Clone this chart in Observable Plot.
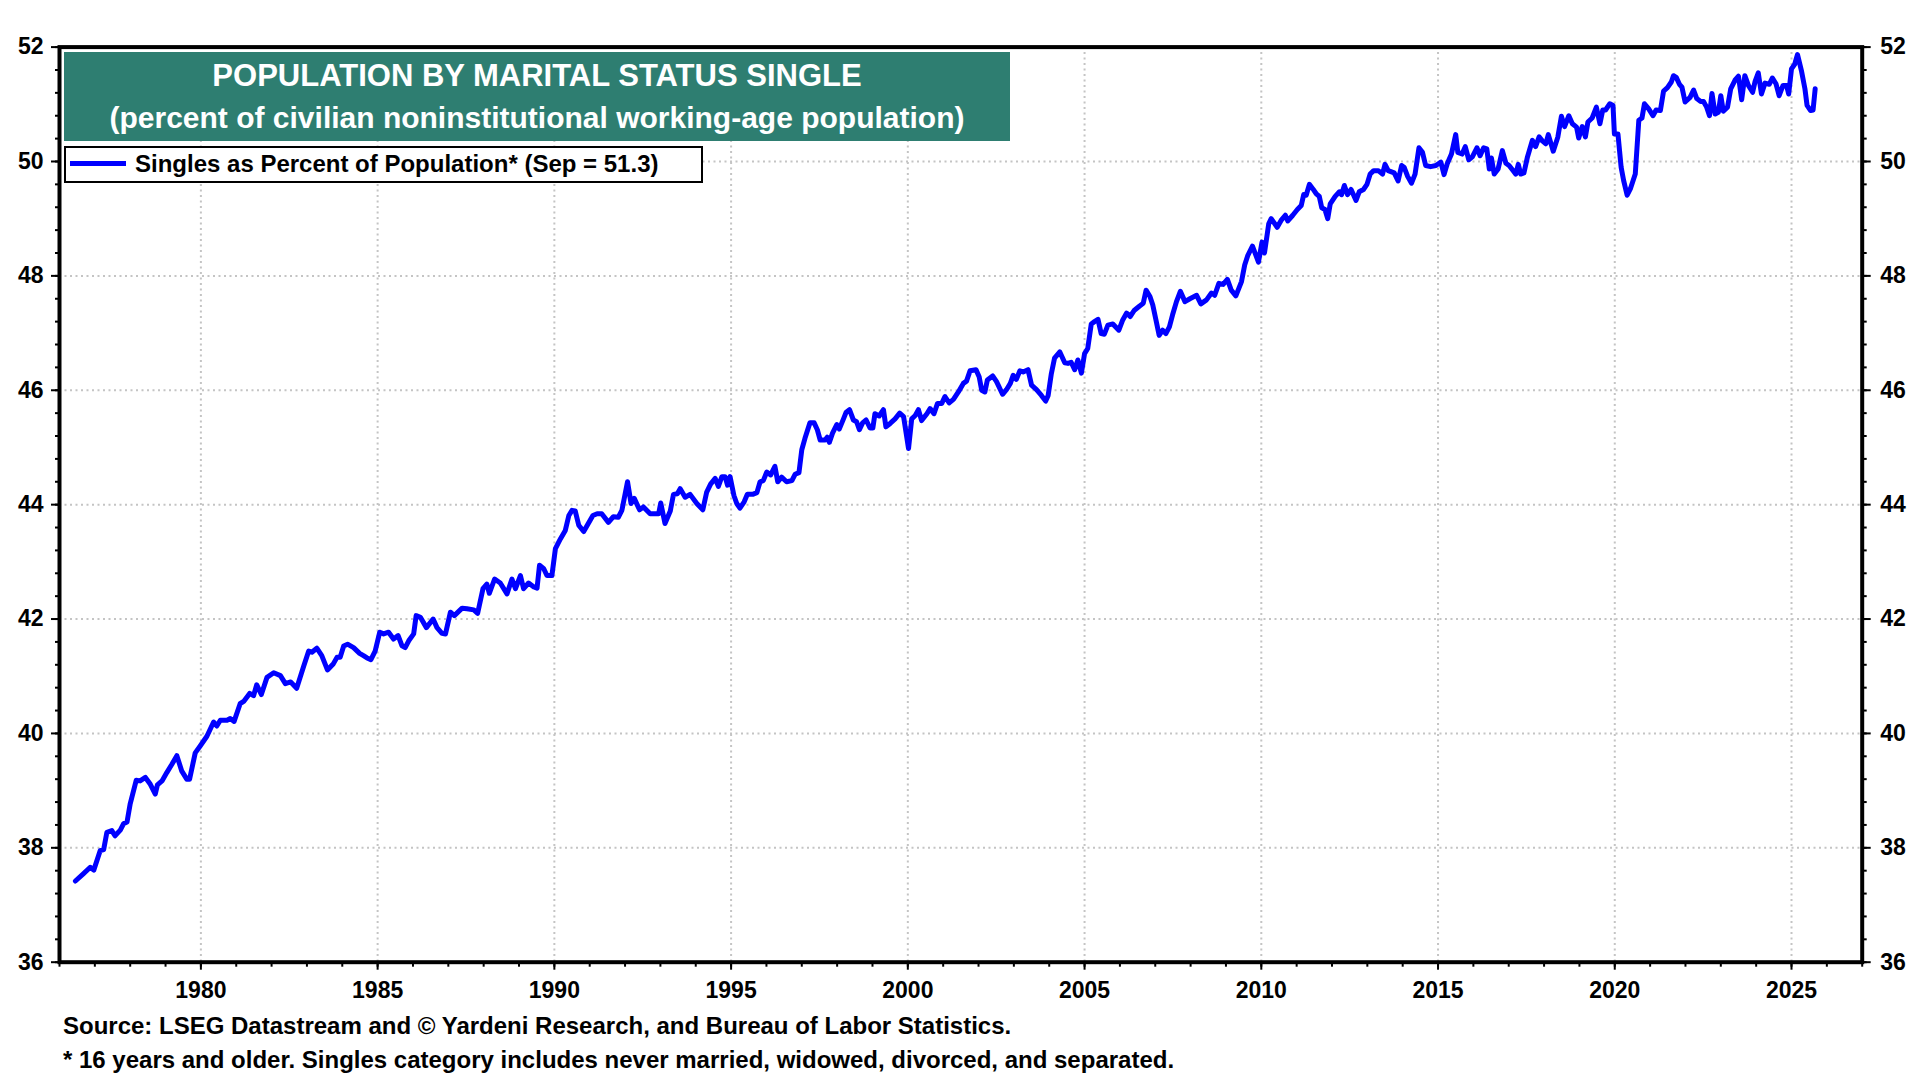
<!DOCTYPE html>
<html>
<head>
<meta charset="utf-8">
<script src="https://cdn.jsdelivr.net/npm/d3@7"></script>
<script src="https://cdn.jsdelivr.net/npm/@observablehq/plot@0.6"></script>
<style>
  body { margin: 0; background: #fff; }
  #wrap { position: relative; width: 1920px; height: 1080px; font-family: "Liberation Sans", Arial, sans-serif; font-weight: bold; }
  #chart { position: absolute; left: 0; top: 0; }
  .tbox { position: absolute; left: 64px; top: 52px; width: 946px; height: 89px; background: #2e7e71; }
  .tline { position: absolute; left: 64px; width: 946px; text-align: center; color: #fff; font-size: 31px; line-height: 31px; white-space: nowrap; }
  .tline.sub { font-size: 30px; line-height: 30px; }
  .lbox { position: absolute; left: 64px; top: 146px; width: 635px; height: 33px; background: #fff; border: 2px solid #000; }
  .lswatch { position: absolute; left: 70px; top: 161px; width: 56px; height: 5px; background: #0000ff; }
  .ltext { position: absolute; left: 135px; font-size: 24px; line-height: 24px; color: #000; white-space: nowrap; }
  .foot { position: absolute; left: 63px; font-size: 24px; line-height: 24px; color: #000; white-space: nowrap; }
</style>
</head>
<body>
<div id="wrap">
  <div id="chart"></div>
</div>
<script>
// ---- data ----
const chartTitle = "POPULATION BY MARITAL STATUS SINGLE";
const chartSubtitle = "(percent of civilian noninstitutional working-age population)";
const seriesLabel = "Singles as Percent of Population* (Sep = 51.3)";
const sourceNote = "Source: LSEG Datastream and © Yardeni Research, and Bureau of Labor Statistics.";
const footNote = "* 16 years and older. Singles category includes never married, widowed, divorced, and separated.";

const yearTicks = [1980, 1985, 1990, 1995, 2000, 2005, 2010, 2015, 2020, 2025];
const valueTicks = [36, 38, 40, 42, 44, 46, 48, 50, 52];

// observation time (decimal year)
const obsYear = [
1976.45,1976.68,1976.87,1976.97,1977.15,1977.25,1977.34,1977.48,1977.57,1977.72,1977.81,1977.91,
1978.00,1978.17,1978.28,1978.43,1978.57,1978.71,1978.77,1978.90,1979.04,1979.18,1979.32,1979.46,
1979.60,1979.68,1979.84,1979.98,1980.17,1980.36,1980.45,1980.55,1980.74,1980.83,1980.94,1981.11,
1981.21,1981.38,1981.49,1981.58,1981.71,1981.87,1982.06,1982.25,1982.39,1982.54,1982.71,
1982.91,1983.05,1983.14,1983.28,1983.42,1983.58,1983.75,1983.85,1983.94,1984.04,1984.15,1984.32,
1984.49,1984.60,1984.70,1984.81,1984.93,1985.06,1985.17,1985.31,1985.45,1985.58,1985.69,1985.78,
1985.88,1986.02,1986.09,1986.21,1986.38,1986.57,1986.68,1986.82,1986.92,1987.06,1987.17,1987.39,
1987.53,1987.72,1987.83,1987.98,1988.09,1988.16,1988.31,1988.47,1988.66,1988.80,1988.90,1989.04,
1989.13,1989.27,1989.42,1989.51,1989.58,1989.70,1989.79,1989.93,1990.03,1990.17,1990.31,1990.41,
1990.50,1990.59,1990.69,1990.83,1990.94,1991.09,1991.21,
1991.34,1991.53,1991.67,1991.81,1991.91,1992.07,1992.17,1992.26,1992.41,1992.52,1992.71,1992.95,
1993.01,1993.13,1993.28,1993.37,1993.48,1993.56,1993.70,1993.84,1994.03,1994.20,1994.31,1994.42,
1994.55,1994.64,1994.74,1994.83,1994.90,1994.97,1995.08,1995.16,1995.25,1995.37,1995.46,1995.61,
1995.73,1995.82,1995.91,1996.01,1996.12,1996.24,1996.32,1996.43,1996.57,1996.72,1996.81,1996.92,
1997.00,1997.09,1997.23,1997.35,1997.44,1997.52,1997.66,1997.72,1997.78,1997.87,1997.99,1998.06,
1998.18,1998.25,1998.35,1998.46,1998.55,1998.63,1998.72,1998.82,1998.93,1999.01,1999.07,1999.19,
1999.31,1999.38,
1999.50,1999.64,1999.77,1999.88,2000.02,2000.11,2000.21,2000.30,2000.39,2000.54,2000.63,2000.74,
2000.84,2000.96,2001.05,2001.17,2001.29,2001.43,2001.57,2001.66,2001.76,2001.93,2002.02,2002.09,
2002.18,2002.25,2002.40,2002.51,2002.68,2002.79,2002.90,2002.98,2003.07,2003.17,2003.26,2003.40,
2003.50,2003.64,2003.78,2003.90,2003.97,2004.06,2004.15,2004.30,2004.44,2004.53,2004.62,2004.72,
2004.81,2004.91,2005.00,2005.09,2005.19,2005.28,2005.38,2005.47,2005.56,2005.66,2005.80,2005.97,
2006.08,2006.19,2006.29,2006.41,2006.55,2006.66,2006.74,2006.85,2006.93,2007.02,2007.11,2007.21,
2007.30,2007.40,2007.49,2007.60,2007.71,
2007.84,2007.98,2008.17,2008.29,2008.45,2008.59,2008.68,2008.80,2008.92,2009.04,2009.15,2009.28,
2009.44,2009.53,2009.62,2009.75,2009.83,2009.92,2010.02,2010.09,2010.21,2010.28,2010.45,2010.56,
2010.68,2010.75,2010.89,2011.02,2011.13,2011.20,2011.27,2011.36,2011.46,2011.55,2011.64,2011.71,
2011.80,2011.88,2011.95,2012.09,2012.21,2012.27,2012.35,2012.44,2012.54,2012.68,2012.77,2012.89,
2012.99,2013.08,2013.18,2013.31,2013.43,2013.50,2013.59,2013.76,2013.87,2013.97,2014.04,2014.14,
2014.25,2014.35,2014.46,2014.56,2014.65,2014.79,2014.94,2015.08,2015.17,2015.26,2015.38,2015.50,
2015.56,2015.68,2015.77,2015.87,2015.97,
2016.10,2016.19,2016.29,2016.38,2016.45,2016.51,2016.59,2016.70,2016.82,2016.92,2017.01,2017.11,
2017.20,2017.27,2017.34,2017.43,2017.53,2017.67,2017.76,2017.86,2017.95,2018.05,2018.12,2018.26,
2018.39,2018.49,2018.58,2018.70,2018.80,2018.92,2018.98,2019.08,2019.17,2019.24,2019.36,2019.48,
2019.58,2019.66,2019.74,2019.86,2019.95,2019.99,2020.09,2020.18,2020.25,2020.35,2020.44,2020.58,
2020.68,2020.77,2020.84,2020.96,2021.08,2021.17,2021.29,2021.38,2021.49,2021.60,2021.66,2021.74,
2021.83,2021.90,2021.99,2022.13,2022.23,2022.32,2022.43,2022.51,2022.60,2022.68,2022.75,2022.84,
2022.93,2023.00,2023.07,2023.19,2023.28,2023.40,2023.50,2023.59,2023.68,2023.78,2023.90,2023.97,
2024.06,2024.15,2024.25,2024.37,2024.46,2024.56,2024.65,2024.76,2024.86,2024.92,2025.00,2025.09,
2025.17,2025.28,2025.38,2025.44,2025.54,2025.61,2025.67
];

// singles as percent of population
const obsPct = [
37.42,37.55,37.66,37.61,37.95,37.97,38.27,38.30,38.21,38.31,38.42,38.45,
38.77,39.18,39.17,39.23,39.11,38.94,39.10,39.17,39.32,39.46,39.61,39.34,
39.20,39.20,39.66,39.78,39.95,40.20,40.13,40.23,40.23,40.26,40.21,40.52,
40.56,40.70,40.66,40.85,40.68,40.98,41.06,41.01,40.87,40.90,40.79,
41.18,41.44,41.42,41.49,41.36,41.11,41.22,41.33,41.33,41.53,41.56,41.50,
41.40,41.36,41.32,41.29,41.44,41.77,41.74,41.77,41.65,41.71,41.53,41.50,
41.62,41.74,42.06,42.03,41.85,42.00,41.85,41.75,41.74,42.12,42.06,42.19,
42.18,42.16,42.10,42.53,42.61,42.45,42.70,42.63,42.44,42.70,42.53,42.76,
42.53,42.63,42.56,42.54,42.94,42.88,42.76,42.76,43.23,43.40,43.55,43.81,
43.90,43.89,43.64,43.53,43.65,43.81,43.84,
43.84,43.69,43.79,43.78,43.90,44.40,44.02,44.11,43.91,43.96,43.84,43.84,
44.03,43.67,43.89,44.18,44.19,44.28,44.13,44.18,44.02,43.91,44.22,44.36,
44.46,44.32,44.49,44.49,44.34,44.49,44.16,44.02,43.94,44.05,44.18,44.18,
44.21,44.40,44.42,44.57,44.52,44.67,44.40,44.48,44.40,44.42,44.53,44.56,
44.96,45.16,45.43,45.43,45.31,45.13,45.13,45.18,45.09,45.25,45.40,45.32,
45.50,45.61,45.66,45.48,45.45,45.31,45.43,45.48,45.34,45.34,45.59,45.55,
45.66,45.36,
45.42,45.50,45.60,45.54,44.98,45.50,45.56,45.66,45.47,45.59,45.68,45.59,
45.77,45.77,45.89,45.78,45.84,45.97,46.12,46.16,46.34,46.36,46.23,46.00,
45.97,46.18,46.25,46.15,45.93,46.01,46.12,46.26,46.19,46.34,46.32,46.36,
46.09,46.01,45.91,45.81,45.91,46.29,46.56,46.67,46.48,46.47,46.49,46.36,
46.53,46.30,46.64,46.73,47.16,47.20,47.24,46.99,46.98,47.14,47.16,47.05,
47.23,47.35,47.29,47.40,47.47,47.52,47.75,47.64,47.49,47.23,46.96,47.05,
46.99,47.11,47.32,47.55,47.73,
47.55,47.60,47.66,47.51,47.58,47.70,47.66,47.87,47.85,47.94,47.75,47.65,
47.90,48.19,48.36,48.52,48.39,48.24,48.59,48.40,48.91,49.00,48.85,48.97,
49.06,48.96,49.06,49.16,49.23,49.42,49.41,49.60,49.52,49.44,49.39,49.19,
49.16,49.00,49.26,49.39,49.47,49.42,49.58,49.42,49.51,49.32,49.47,49.51,
49.60,49.78,49.84,49.84,49.78,49.95,49.84,49.80,49.66,49.93,49.90,49.74,
49.62,49.78,50.24,50.16,49.93,49.91,49.93,49.99,49.77,49.96,50.13,50.47,
50.16,50.13,50.26,50.03,50.08,
50.24,50.10,50.24,50.22,49.87,50.06,49.78,49.87,50.19,49.97,49.93,49.85,
49.78,49.95,49.78,49.80,50.08,50.37,50.26,50.43,50.36,50.31,50.47,50.18,
50.43,50.79,50.61,50.80,50.66,50.60,50.41,50.61,50.43,50.69,50.76,50.95,
50.66,50.90,50.90,51.01,50.98,50.48,50.48,49.90,49.67,49.41,49.52,49.78,
50.72,50.76,51.01,50.92,50.80,50.90,50.89,51.23,51.29,51.39,51.50,51.47,
51.35,51.30,51.04,51.12,51.25,51.10,51.05,51.05,50.95,50.80,51.19,50.83,
50.86,51.15,50.88,50.95,51.27,51.42,51.49,51.08,51.50,51.33,51.21,51.40,
51.55,51.18,51.37,51.35,51.46,51.36,51.15,51.33,51.33,51.18,51.62,51.70,
51.87,51.59,51.27,50.98,50.89,50.90,51.27
];

// ---- build ----
const data = obsYear.map((t, i) => ({t, v: obsPct[i]}));
const minorYears = d3.range(1976, 2028, 1);
const minorValues = d3.range(0, 41).map(i => 36 + i * 0.4);

const plot = Plot.plot({
  width: 1920,
  height: 1005,
  marginLeft: 59,
  marginRight: 58.3,
  marginTop: 46.6,
  marginBottom: 43.3,
  style: {fontFamily: "'Liberation Sans', Arial, sans-serif", fontWeight: "bold", color: "#000", background: "#fff"},
  x: {type: "linear", domain: [1976, 2027]},
  y: {domain: [36, 52]},
  marks: [
    Plot.gridX(yearTicks, {stroke: "#c4c4c4", strokeOpacity: 1, strokeWidth: 2, strokeDasharray: "2,3.5"}),
    Plot.gridY(valueTicks.slice(1, -1), {stroke: "#c4c4c4", strokeOpacity: 1, strokeWidth: 2, strokeDasharray: "2,3.5"}),
    Plot.axisX({ticks: minorYears, tickSize: 5, tickFormat: () => "", strokeWidth: 2, label: null}),
    Plot.axisX({ticks: yearTicks, tickSize: 8, tickPadding: 11, tickFormat: d => String(d), fontSize: 23, strokeWidth: 2, label: null}),
    Plot.axisY({anchor: "left", ticks: minorValues, tickSize: 4, tickFormat: () => "", strokeWidth: 2, label: null}),
    Plot.axisY({anchor: "right", ticks: minorValues, tickSize: 4, tickFormat: () => "", strokeWidth: 2, label: null}),
    Plot.axisY({anchor: "left", ticks: valueTicks, tickSize: 8, tickPadding: 8, tickFormat: d => String(d), fontSize: 23, strokeWidth: 2, label: null}),
    Plot.axisY({anchor: "right", ticks: valueTicks, tickSize: 8, tickPadding: 10, tickFormat: d => String(d), fontSize: 23, strokeWidth: 2, label: null}),
    Plot.line(data, {x: "t", y: "v", stroke: "#0000ff", strokeWidth: 5, strokeLinejoin: "round", strokeLinecap: "round"}),
    Plot.frame({stroke: "#000", strokeWidth: 4})
  ]
});
document.getElementById("chart").appendChild(plot);

// ---- overlays: title box, legend, footer ----
const wrap = document.getElementById("wrap");
function add(cls, text, top) {
  const d = document.createElement("div");
  d.className = cls;
  if (text != null) d.textContent = text;
  if (top != null) d.style.top = top + "px";
  wrap.appendChild(d);
  return d;
}
add("tbox");
add("tline", chartTitle, 59.5);
add("tline sub", chartSubtitle, 102.5);
add("lbox");
add("lswatch");
add("ltext", seriesLabel, 151.8);
add("foot", sourceNote, 1014);
add("foot", footNote, 1047.5);
</script>
</body>
</html>
